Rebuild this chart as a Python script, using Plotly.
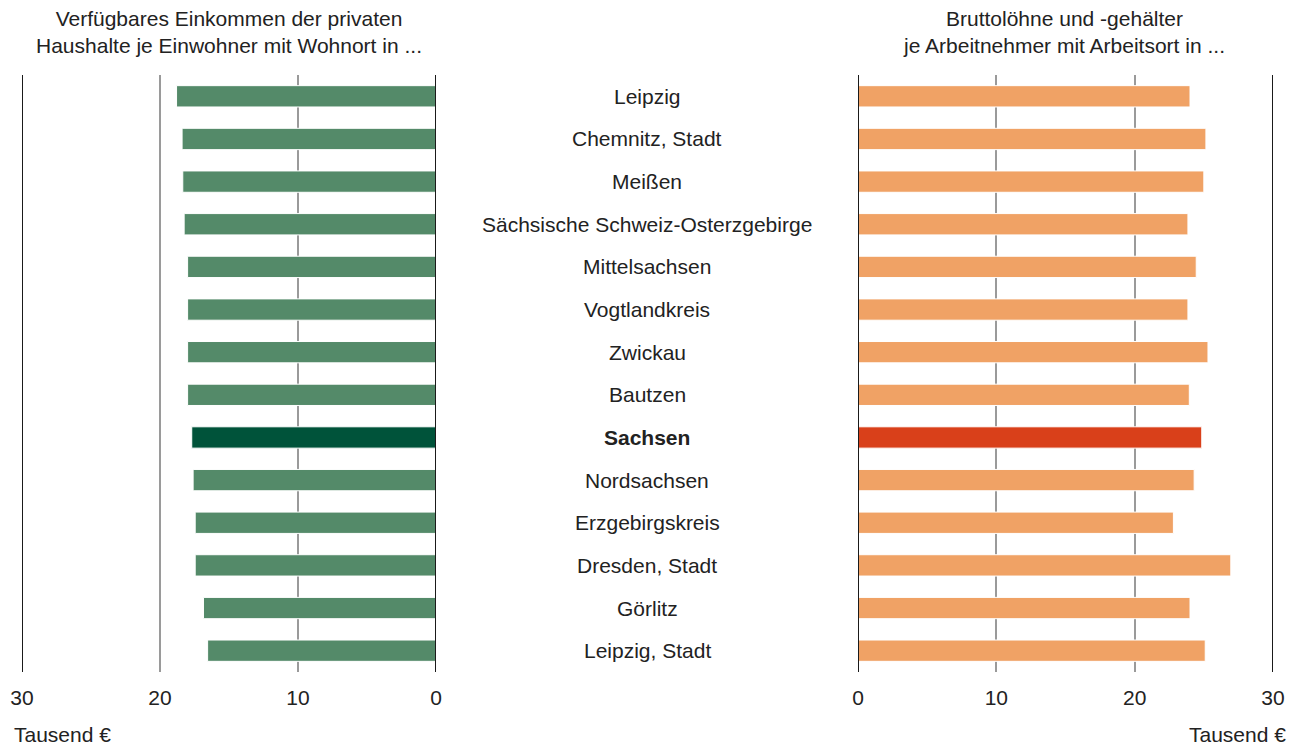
import plotly.graph_objects as go

categories = ["Leipzig", "Chemnitz, Stadt", "Meißen", "Sächsische Schweiz-Osterzgebirge",
              "Mittelsachsen", "Vogtlandkreis", "Zwickau", "Bautzen", "Sachsen",
              "Nordsachsen", "Erzgebirgskreis", "Dresden, Stadt", "Görlitz", "Leipzig, Stadt"]
einkommen = [18.8, 18.4, 18.35, 18.25, 18.0, 18.0, 18.0, 18.0, 17.7, 17.6, 17.45, 17.45, 16.85, 16.55]
loehne = [24.0, 25.15, 25.0, 23.85, 24.45, 23.85, 25.3, 23.95, 24.85, 24.3, 22.8, 26.95, 24.0, 25.1]
highlight = "Sachsen"
title_left = "Verfügbares Einkommen der privaten<br>Haushalte je Einwohner mit Wohnort in ..."
title_right = "Bruttolöhne und -gehälter<br>je Arbeitnehmer mit Arbeitsort in ..."
unit_label = "Tausend €"
tick_vals = [0, 10, 20, 30]

FONT = "Liberation Sans, Arial, sans-serif"
TXT = "#222222"

green = ["#00533A" if c == highlight else "#548A69" for c in categories]
orange = ["#D9401A" if c == highlight else "#F0A265" for c in categories]

fig = go.Figure()
fig.add_trace(go.Bar(y=categories, x=einkommen, orientation="h", xaxis="x", yaxis="y",
                     marker=dict(color=green, line=dict(color="white", width=1)),
                     width=0.5, hoverinfo="x+y"))
fig.add_trace(go.Bar(y=categories, x=loehne, orientation="h", xaxis="x2", yaxis="y",
                     marker=dict(color=orange, line=dict(color="white", width=1)),
                     width=0.5, hoverinfo="x+y"))

# page body has an 8px margin; work in figure coords = screen - 8
OFF = 8
W, H = 1300 - OFF, 746 - OFF
def sx(px):
    return px - OFF
ml = sx(22)
mr = W - sx(1273)
mt = sx(75)
mb = H - sx(672)
pw = W - ml - mr
ph = H - mt - mb
def pxx(x):
    return (sx(x) - ml) / pw
def pyy(y):
    return (H - mb - sx(y)) / ph

d1 = pxx(436)
d2 = pxx(858)

axis_common = dict(tickvals=tick_vals, ticktext=[str(v) for v in tick_vals],
                   showgrid=True, gridcolor="#9a9a9a", gridwidth=1.5,
                   zeroline=False, showline=False, ticks="outside", ticklen=7,
                   tickcolor="rgba(0,0,0,0)",
                   tickfont=dict(family=FONT, size=21, color=TXT), fixedrange=True)

fig.update_layout(
    width=W, height=H,
    margin=dict(l=ml, r=mr, t=mt, b=mb, autoexpand=False),
    paper_bgcolor="white", plot_bgcolor="white",
    showlegend=False, barmode="overlay",
    xaxis=dict(domain=[0, d1], range=[30, 0], **axis_common),
    xaxis2=dict(domain=[d2, 1], range=[0, 30], **axis_common),
    yaxis=dict(showticklabels=False, showgrid=False, zeroline=False, showline=False,
               range=[len(categories) - 0.5, -0.5], autorange=False, fixedrange=True),
    font=dict(family=FONT, size=21, color=TXT),
)

shapes = []
for ax in ["x", "x2"]:
    for v in [0, 30]:
        shapes.append(dict(type="line", xref=ax, yref="paper", x0=v, x1=v, y0=0, y1=1,
                           line=dict(color="#1a1a1a", width=2), layer="above"))
fig.update_layout(shapes=shapes)

f = dict(family=FONT, size=21, color=TXT)
ann = []
for c in categories:
    ann.append(dict(x=pxx(647), y=c, xref="paper", yref="y",
                    text=(f"<b>{c}</b>" if c == highlight else c),
                    showarrow=False, font=f, xanchor="center", yanchor="middle"))
ann.append(dict(x=pxx(229), y=pyy(32), xref="paper", yref="paper", text=title_left,
                showarrow=False, xanchor="center", yanchor="middle", font=f))
ann.append(dict(x=pxx(1064), y=pyy(32), xref="paper", yref="paper", text=title_right,
                showarrow=False, xanchor="center", yanchor="middle", font=f))
ann.append(dict(x=pxx(12), y=pyy(735), xref="paper", yref="paper", text=unit_label,
                showarrow=False, xanchor="left", yanchor="middle", font=f))
ann.append(dict(x=pxx(1288), y=pyy(735), xref="paper", yref="paper", text=unit_label,
                showarrow=False, xanchor="right", yanchor="middle", font=f))
fig.update_layout(annotations=ann)

fig.write_html("out.html")
